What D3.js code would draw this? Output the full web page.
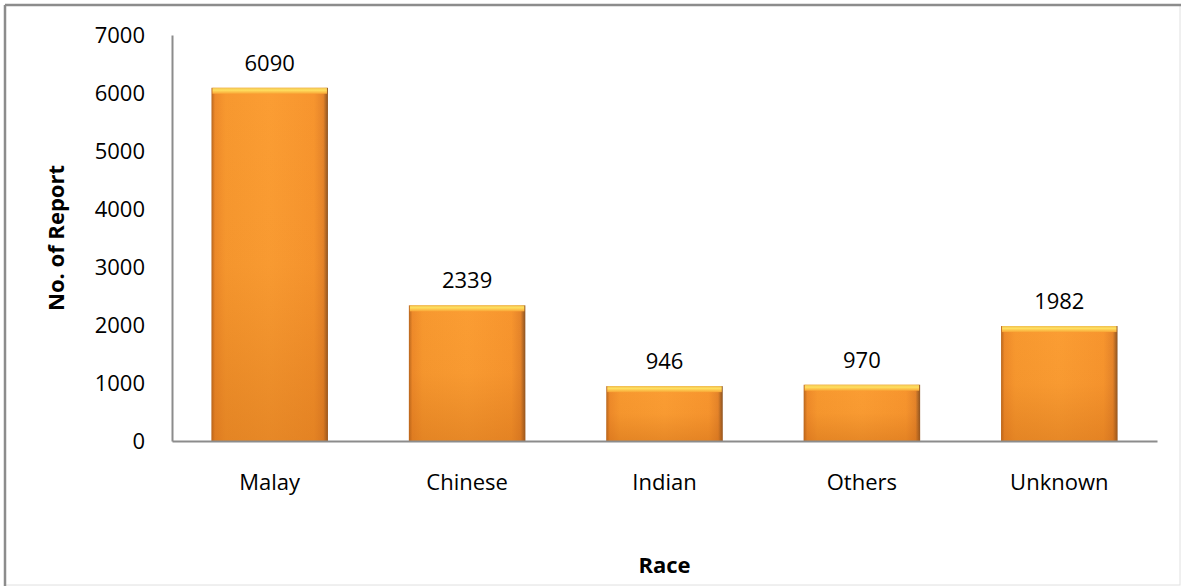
<!DOCTYPE html>
<html><head><meta charset="utf-8">
<script src="https://cdn.jsdelivr.net/npm/d3@7"></script>
<style>body{margin:0;background:#fff;} text{font-family:"Open Sans","Noto Sans",sans-serif;fill:#000;}</style>
</head><body>
<svg id="c" width="1181" height="586"></svg>
<script>
const categories = ["Malay","Chinese","Indian","Others","Unknown"];
const values = [6090,2339,946,970,1982];
const yTicks = [0,1000,2000,3000,4000,5000,6000,7000];

const svg = d3.select("#c");
const W = 1181, H = 586;
const m = {left:172, right:24, top:35, bottom:145};
const FS = 22;

// frame
svg.append("rect").attr("x",5).attr("y",5).attr("width",W-6).attr("height",H-6)
  .attr("fill","none").attr("stroke","#e0e0e0").attr("stroke-width",1);
svg.append("line").attr("x1",5).attr("x2",W).attr("y1",5).attr("y2",5).attr("stroke","#8c8c8c").attr("stroke-width",2.5);
svg.append("line").attr("x1",5).attr("x2",5).attr("y1",5).attr("y2",H).attr("stroke","#8c8c8c").attr("stroke-width",2.5);

const x = d3.scaleBand().domain(categories).range([m.left, W-m.right]).paddingInner(0.41).paddingOuter(0.2);
const y = d3.scaleLinear().domain([0,7000]).range([H-m.bottom, m.top]);

const defs = svg.append("defs");
const g1 = defs.append("linearGradient").attr("id","body").attr("x1","0").attr("x2","1").attr("y1","0").attr("y2","0");
[[0,"#b8661e"],[0.03,"#ee8a2a"],[0.12,"#f7982f"],[0.5,"#fb9d33"],[0.88,"#f7952e"],[0.96,"#e5842a"],[1,"#8a5222"]]
  .forEach(([o,c])=>g1.append("stop").attr("offset",o).attr("stop-color",c));
const g2 = defs.append("linearGradient").attr("id","shade").attr("x1","0").attr("x2","0").attr("y1","0").attr("y2","1");
[[0,"#c0600f",0],[0.5,"#c0600f",0.05],[1,"#c0600f",0.35]].forEach(([o,c,a])=>g2.append("stop").attr("offset",o).attr("stop-color",c).attr("stop-opacity",a));
const g3 = defs.append("linearGradient").attr("id","cap").attr("x1","0").attr("x2","0").attr("y1","0").attr("y2","1");
[[0,"#f0c050"],[0.4,"#ffe060"],[1,"#f9a535"]].forEach(([o,c])=>g3.append("stop").attr("offset",o).attr("stop-color",c));

const bars = svg.append("g").selectAll("g").data(categories.map((c,i)=>({c,v:values[i]}))).join("g");
bars.append("rect").attr("x",d=>x(d.c)).attr("y",d=>y(d.v)).attr("width",x.bandwidth()).attr("height",d=>y(0)-y(d.v))
  .attr("fill","url(#body)");
bars.append("rect").attr("x",d=>x(d.c)).attr("y",d=>y(d.v)).attr("width",x.bandwidth()).attr("height",d=>y(0)-y(d.v))
  .attr("fill","url(#shade)");
bars.append("rect").attr("x",d=>x(d.c)+1).attr("y",d=>y(d.v)).attr("width",x.bandwidth()-2).attr("height",6)
  .attr("fill","url(#cap)");
bars.append("text").attr("x",d=>x(d.c)+x.bandwidth()/2).attr("y",d=>y(d.v)-17)
  .attr("text-anchor","middle").attr("font-size",FS).text(d=>d.v);

// axes
const yAxis = svg.append("g").attr("transform",`translate(${m.left},0)`)
  .call(d3.axisLeft(y).tickValues(yTicks).tickSize(0).tickPadding(27).tickFormat(d3.format("d")));
yAxis.select(".domain").attr("stroke","#8c8c8c").attr("stroke-width",2);
yAxis.selectAll("text").attr("font-size",FS).attr("fill","#000");

const xAxis = svg.append("g").attr("transform",`translate(0,${y(0)})`)
  .call(d3.axisBottom(x).tickSize(0).tickPadding(33));
xAxis.select(".domain").attr("stroke","#8c8c8c").attr("stroke-width",2);
xAxis.selectAll("text").attr("font-size",FS).attr("fill","#000");

svg.append("text").attr("transform",`translate(64,${(m.top+y(0))/2}) rotate(-90)`)
  .attr("text-anchor","middle").attr("font-size",FS).attr("font-weight","bold").text("No. of Report");
svg.append("text").attr("x",(m.left+W-m.right)/2).attr("y",573)
  .attr("text-anchor","middle").attr("font-size",FS).attr("font-weight","bold").text("Race");
</script>
</body></html>
